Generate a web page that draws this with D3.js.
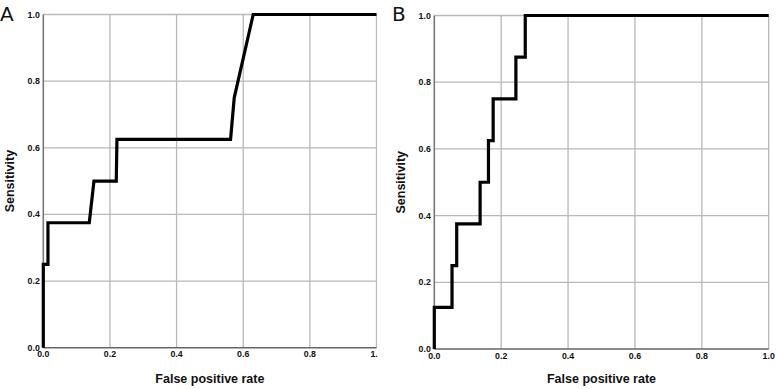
<!DOCTYPE html>
<html>
<head>
<meta charset="utf-8">
<script src="https://cdn.jsdelivr.net/npm/d3@7"></script>
<style>
  body { margin: 0; background: #fff; }
  svg { display: block; }
  .tick-label { font-family: "Liberation Sans", Arial, sans-serif; font-weight: bold; font-size: 8.8px; fill: #111; }
  .axis-title { font-family: "Liberation Sans", Arial, sans-serif; font-weight: bold; font-size: 12.5px; fill: #111; }
  .panel-label { font-family: "DejaVu Sans", sans-serif; font-size: 20px; fill: #111; }
</style>
</head>
<body>
<div id="chart-area"></div>
<script>
// tick values shared by both panels
const xTicks = [0, 0.2, 0.4, 0.6, 0.8, 1.0]
const yTicks = [0, 0.2, 0.4, 0.6, 0.8, 1.0]

// panel A ROC curve (false positive rate, sensitivity)
const fprA  = [0, 0,    0.014, 0.014, 0.138, 0.152, 0.219, 0.221, 0.562, 0.573, 0.63, 1.0]
const sensA = [0, 0.25, 0.25,  0.375, 0.375, 0.5,   0.5,   0.625, 0.625, 0.75,  1.0,  1.0]

// panel B ROC curve
const fprB  = [0, 0,     0.053, 0.053, 0.067, 0.067, 0.137, 0.137, 0.162, 0.162, 0.176, 0.176, 0.244, 0.244, 0.272, 0.272, 1.0]
const sensB = [0, 0.125, 0.125, 0.25,  0.25,  0.375, 0.375, 0.5,   0.5,   0.625, 0.625, 0.75,  0.75,  0.875, 0.875, 1.0,   1.0]

const svg = d3.select('#chart-area').append("svg")
    .attr("width", 776)
    .attr("height", 389)

// panel layout (pixels)
const panels = [
    { label: "A", fpr: fprA, sens: sensA, x0: 0, x1: 377.5, left: 43.3, right: 376.5, top: 14.5, bottom: 347.7, labelX: 0, titleX: 13.5 },
    { label: "B", fpr: fprB, sens: sensB, x0: 386, x1: 776, left: 434.3, right: 768.7, top: 15.5, bottom: 349.0, labelX: 392, titleX: 404.5 }
]

panels.forEach((p, i) => {
    // each panel is clipped to its own area (the "1.0" of panel A is cut off)
    const clipId = "clip" + i
    svg.append("clipPath").attr("id", clipId)
        .append("rect")
        .attr("x", p.x0).attr("y", 0)
        .attr("width", p.x1 - p.x0).attr("height", 389)

    const g = svg.append("g").attr("clip-path", `url(#${clipId})`)

    const x = d3.scaleLinear().domain([0, 1]).range([p.left, p.right])
    const y = d3.scaleLinear().domain([0, 1]).range([p.bottom, p.top])

    // gridlines
    g.selectAll(".vgrid").data(xTicks.slice(1)).enter().append("line")
        .attr("x1", d => x(d)).attr("x2", d => x(d))
        .attr("y1", y(0)).attr("y2", y(1))
        .attr("stroke", "#b8b8b8").attr("stroke-width", 1.3)
    g.selectAll(".hgrid").data(yTicks.slice(1)).enter().append("line")
        .attr("x1", x(0)).attr("x2", x(1))
        .attr("y1", d => y(d)).attr("y2", d => y(d))
        .attr("stroke", "#b8b8b8").attr("stroke-width", 1.3)

    // axis lines
    g.append("line")
        .attr("x1", x(0)).attr("x2", x(0)).attr("y1", y(0)).attr("y2", y(1))
        .attr("stroke", "#777").attr("stroke-width", 1.6)
    g.append("line")
        .attr("x1", x(0)).attr("x2", x(1)).attr("y1", y(0)).attr("y2", y(0))
        .attr("stroke", "#666").attr("stroke-width", 1.6)

    // tick labels
    g.selectAll(".xt").data(xTicks).enter().append("text")
        .attr("class", "tick-label")
        .attr("x", d => x(d))
        .attr("y", y(0) + 9.5)
        .attr("text-anchor", "middle")
        .text(d => d.toFixed(1))
    g.selectAll(".yt").data(yTicks).enter().append("text")
        .attr("class", "tick-label")
        .attr("x", x(0) - 3.5)
        .attr("y", d => y(d) + 3)
        .attr("text-anchor", "end")
        .text(d => d.toFixed(1))

    // ROC curve
    const pts = p.fpr.map((f, j) => [f, p.sens[j]])
    const line = d3.line().x(d => x(d[0])).y(d => y(d[1]))
    g.append("path")
        .attr("d", line(pts))
        .attr("fill", "none")
        .attr("stroke", "#000")
        .attr("stroke-width", 3.2)
        .attr("stroke-linejoin", "miter")

    // axis titles
    g.append("text")
        .attr("class", "axis-title")
        .attr("x", (p.left + p.right) / 2)
        .attr("y", 382.5)
        .attr("text-anchor", "middle")
        .text("False positive rate")
    g.append("text")
        .attr("class", "axis-title")
        .attr("transform", `translate(${p.titleX},${(p.top + p.bottom) / 2}) rotate(-90)`)
        .attr("text-anchor", "middle")
        .text("Sensitivity")

    // panel letter
    svg.append("text")
        .attr("class", "panel-label")
        .attr("x", p.labelX)
        .attr("y", 20.5)
        .text(p.label)
})
</script>
</body>
</html>
